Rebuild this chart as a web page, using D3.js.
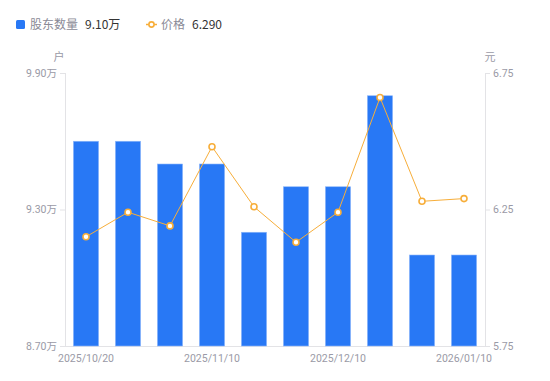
<!DOCTYPE html>
<html>
<head>
<meta charset="utf-8">
<script src="https://cdn.jsdelivr.net/npm/d3@7"></script>
<style>
  html, body { margin: 0; padding: 0; background: #fff; }
  svg { display: block; font-family: "Noto Sans CJK SC", "Noto Sans", sans-serif; }
</style>
</head>
<body>
<svg id="chart" width="550" height="381"></svg>
<script>
const categories = ["2025/10/20", "2025/10/31", "2025/11/07", "2025/11/10", "2025/11/20", "2025/11/28", "2025/12/10", "2025/12/19", "2025/12/31", "2026/01/10"];
const holders = [9.60, 9.60, 9.50, 9.50, 9.20, 9.40, 9.40, 9.80, 9.10, 9.10];
const prices = [6.15, 6.24, 6.19, 6.48, 6.26, 6.13, 6.24, 6.66, 6.28, 6.29];
const leftTicks = [8.70, 9.30, 9.90];
const rightTicks = [5.75, 6.25, 6.75];
const xLabelIdx = [0, 3, 6, 9];

const svg = d3.select("#chart");
const L = 65, R = 485, T = 73, B = 346;
const axisColor = "#e3e3e6", labelColor = "#9a9aa6";
const blue = "#2878f5", orange = "#f7ae3a";

const x = d3.scaleBand().domain(categories).range([L, R]).paddingInner(0.4).paddingOuter(0.2);
const yL = d3.scaleLinear().domain([8.70, 9.90]).range([B, T]);
const yR = d3.scaleLinear().domain([5.75, 6.75]).range([B, T]);

// axes
const leftAxis = d3.axisLeft(yL).tickValues(leftTicks).tickSize(5).tickPadding(3).tickFormat(d => d3.format(".2f")(d) + "万");
const rightAxis = d3.axisRight(yR).tickValues(rightTicks).tickSize(5).tickPadding(3).tickFormat(d3.format(".2f"));

function styleAxis(g) {
  g.select(".domain").remove();
  g.selectAll(".tick line").attr("stroke", axisColor);
  g.selectAll(".tick text").attr("fill", labelColor).style("font-size", "10.5px").style("font-family", "Roboto, 'Noto Sans CJK SC', sans-serif");
}
svg.append("g").attr("transform", `translate(${L},0)`).call(leftAxis).call(styleAxis);
svg.append("g").attr("transform", `translate(${R},0)`).call(rightAxis).call(styleAxis);

svg.append("line").attr("x1", L + 0.5).attr("x2", L + 0.5).attr("y1", T).attr("y2", B).attr("stroke", axisColor);
svg.append("line").attr("x1", R + 0.5).attr("x2", R + 0.5).attr("y1", T).attr("y2", B).attr("stroke", axisColor);
svg.append("line").attr("x1", L).attr("x2", R + 1).attr("y1", B + 0.5).attr("y2", B + 0.5).attr("stroke", axisColor);

// x labels
svg.append("g").selectAll("text").data(xLabelIdx).join("text")
  .attr("x", i => x(categories[i]) + x.bandwidth() / 2)
  .attr("y", B + 16)
  .attr("text-anchor", "middle")
  .attr("fill", labelColor)
  .style("font-size", "10.5px")
  .style("font-family", "Roboto, 'Noto Sans CJK SC', sans-serif")
  .text(i => categories[i]);

// unit labels
svg.append("text").attr("x", 59).attr("y", 61).attr("text-anchor", "middle").attr("fill", labelColor).style("font-size", "11px").text("户");
svg.append("text").attr("x", 490).attr("y", 61).attr("text-anchor", "middle").attr("fill", labelColor).style("font-size", "11px").text("元");

// bars
svg.append("g").selectAll("rect").data(holders).join("rect")
  .attr("x", (d, i) => x(categories[i]))
  .attr("y", d => yL(d))
  .attr("width", x.bandwidth())
  .attr("height", d => B - yL(d))
  .attr("fill", blue)
  .attr("stroke", "#8fb8fa")
  .attr("stroke-width", 0.6);

// line
const line = d3.line().x((d, i) => x(categories[i]) + x.bandwidth() / 2).y(d => yR(d));
svg.append("path").datum(prices).attr("d", line).attr("fill", "none").attr("stroke", orange).attr("stroke-width", 1);
svg.append("g").selectAll("circle").data(prices).join("circle")
  .attr("cx", (d, i) => x(categories[i]) + x.bandwidth() / 2)
  .attr("cy", d => yR(d))
  .attr("r", 3)
  .attr("fill", "#fff")
  .attr("stroke", orange)
  .attr("stroke-width", 1.6);

// legend
const lg = svg.append("g");
lg.append("rect").attr("x", 16).attr("y", 20).attr("width", 9).attr("height", 9).attr("rx", 1.5).attr("fill", blue);
lg.append("text").attr("x", 30).attr("y", 29).attr("fill", "#8a8a96").style("font-size", "12px").text("股东数量");
lg.append("text").attr("x", 85).attr("y", 29).attr("fill", "#333").style("font-size", "12px").text(d3.format(".2f")(holders[holders.length - 1]) + "万");
lg.append("line").attr("x1", 146).attr("x2", 157).attr("y1", 24.5).attr("y2", 24.5).attr("stroke", orange).attr("stroke-width", 1.5);
lg.append("circle").attr("cx", 151.5).attr("cy", 24.5).attr("r", 2.6).attr("fill", "#fff").attr("stroke", orange).attr("stroke-width", 1.6);
lg.append("text").attr("x", 161).attr("y", 29).attr("fill", "#8a8a96").style("font-size", "12px").text("价格");
lg.append("text").attr("x", 192).attr("y", 29).attr("fill", "#333").style("font-size", "12px").text(d3.format(".3f")(prices[prices.length - 1]));
</script>
</body>
</html>
